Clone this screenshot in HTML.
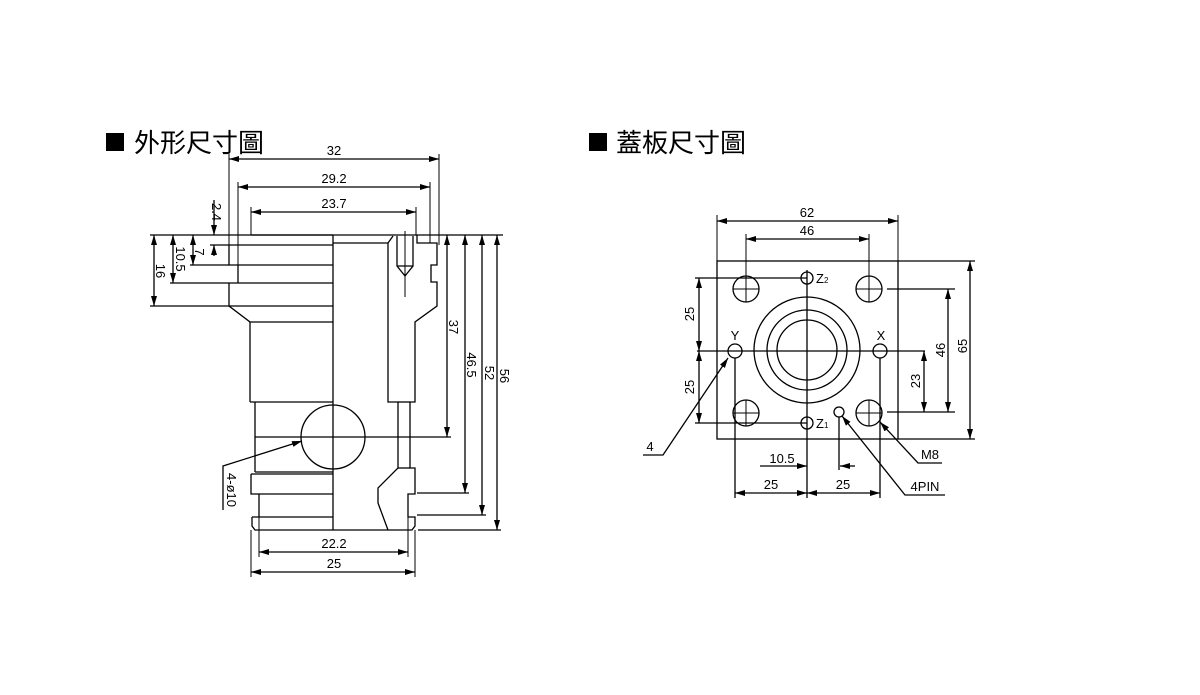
<!DOCTYPE html>
<html><head><meta charset="utf-8"><style>
html,body{margin:0;padding:0;background:#fff;}
svg{display:block;}
text{font-family:"Liberation Sans",Arial,sans-serif;font-size:13px;fill:#000;}
.t{font-family:"Liberation Sans","Noto Sans CJK TC",sans-serif;font-size:26px;}
</style></head><body>
<svg width="1200" height="695" viewBox="0 0 1200 695" xmlns="http://www.w3.org/2000/svg">
<defs>
<marker id="a" viewBox="0 0 10 6" refX="10" refY="3" markerWidth="10" markerHeight="6" orient="auto-start-reverse" markerUnits="userSpaceOnUse"><path d="M0,0L10,3L0,6z" fill="#000"/></marker>
</defs>
<rect x="106" y="133" width="18" height="18" fill="#000"/>
<text class="t" x="134" y="152">外形尺寸圖</text>
<rect x="589" y="133" width="18" height="18" fill="#000"/>
<text class="t" x="616" y="152">蓋板尺寸圖</text>

<g stroke="#000" stroke-width="1.3" fill="none">
<path d="M251,235 H333 M229,245 H333 M229,245 V265 H333 M238,265 V283 M229,283 V306 L250,322 V402 M229,283 H333 M229,306 H333 M250,322 H333 M250,402 H333 M255,402 V472 M255,472 H333 M251,474 V494 H333 M251,474 H333 M259,494 V517 M252,517 H333 M252,517 V526 L255,530 H333"/>
<line x1="333" y1="235" x2="333" y2="530"/>
<path d="M333,243 H388 L393,236 M388,243 V402 H398 V468 L378,488 V503 L388,530 M333,530 H412 L415,526 V517 H408 V494 H415 V468 H410 V402 H415 V322 L437,306 V282 H431 V265 H437 V243 H417 V235"/>
<line x1="398" y1="402" x2="410" y2="402"/><line x1="398" y1="468" x2="410" y2="468"/>
<path d="M397,236 V266 L405,276 L413,266 V236 M397,266 H413"/>
<line x1="405" y1="231" x2="405" y2="297" stroke-width="1"/>
<circle cx="333" cy="437" r="32"/>
<line x1="255" y1="437" x2="451" y2="437"/>
<line x1="150" y1="235" x2="503" y2="235"/>
<line x1="229" y1="154" x2="229" y2="245" stroke-width="1"/><line x1="439" y1="154" x2="439" y2="245" stroke-width="1"/>
<line x1="229" y1="159" x2="439" y2="159" marker-start="url(#a)" marker-end="url(#a)"/>
<line x1="238" y1="182" x2="238" y2="265" stroke-width="1"/><line x1="430" y1="182" x2="430" y2="243" stroke-width="1"/>
<line x1="238" y1="187" x2="430" y2="187" marker-start="url(#a)" marker-end="url(#a)"/>
<line x1="251" y1="207" x2="251" y2="235" stroke-width="1"/><line x1="416" y1="207" x2="416" y2="235" stroke-width="1"/>
<line x1="251" y1="212" x2="416" y2="212" marker-start="url(#a)" marker-end="url(#a)"/>
<line x1="150" y1="306" x2="229" y2="306"/><line x1="170" y1="283" x2="229" y2="283"/><line x1="190" y1="265" x2="229" y2="265"/>
<line x1="154" y1="235" x2="154" y2="306" marker-start="url(#a)" marker-end="url(#a)"/>
<line x1="173" y1="235" x2="173" y2="283" marker-start="url(#a)" marker-end="url(#a)"/>
<line x1="193" y1="235" x2="193" y2="265" marker-start="url(#a)" marker-end="url(#a)"/>
<line x1="214" y1="200" x2="214" y2="235" marker-end="url(#a)"/>
<line x1="214" y1="256" x2="214" y2="245" marker-end="url(#a)"/>
<line x1="210" y1="245" x2="229" y2="245"/>
<line x1="447" y1="235" x2="447" y2="437" marker-start="url(#a)" marker-end="url(#a)"/>
<line x1="465" y1="235" x2="465" y2="493" marker-start="url(#a)" marker-end="url(#a)"/>
<line x1="482" y1="235" x2="482" y2="515" marker-start="url(#a)" marker-end="url(#a)"/>
<line x1="497" y1="235" x2="497" y2="530" marker-start="url(#a)" marker-end="url(#a)"/>
<line x1="417" y1="493" x2="469" y2="493"/><line x1="417" y1="515" x2="486" y2="515"/><line x1="418" y1="530" x2="501" y2="530"/>
<line x1="259" y1="517" x2="259" y2="557" stroke-width="1"/><line x1="408" y1="517" x2="408" y2="557" stroke-width="1"/>
<line x1="251" y1="530" x2="251" y2="577" stroke-width="1"/><line x1="415" y1="530" x2="415" y2="577" stroke-width="1"/>
<line x1="259" y1="552" x2="408" y2="552" marker-start="url(#a)" marker-end="url(#a)"/>
<line x1="251" y1="572" x2="415" y2="572" marker-start="url(#a)" marker-end="url(#a)"/>
<polyline points="223,510 223,466 302,441" marker-end="url(#a)"/>
</g>
<g>
<text x="334" y="155" text-anchor="middle">32</text>
<text x="334" y="183" text-anchor="middle">29.2</text>
<text x="334" y="208" text-anchor="middle">23.7</text>
<text x="334" y="548" text-anchor="middle">22.2</text>
<text x="334" y="568" text-anchor="middle">25</text>
<text transform="translate(216,212) rotate(90)" text-anchor="middle" dy="4">2.4</text>
<text transform="translate(199,252) rotate(90)" text-anchor="middle" dy="4">7</text>
<text transform="translate(180,259) rotate(90)" text-anchor="middle" dy="4">10.5</text>
<text transform="translate(160,271) rotate(90)" text-anchor="middle" dy="4">16</text>
<text transform="translate(453,327) rotate(90)" text-anchor="middle" dy="4">37</text>
<text transform="translate(471,365) rotate(90)" text-anchor="middle" dy="4">46.5</text>
<text transform="translate(489,373) rotate(90)" text-anchor="middle" dy="4">52</text>
<text transform="translate(504,376) rotate(90)" text-anchor="middle" dy="4">56</text>
<text transform="translate(231,490) rotate(90)" text-anchor="middle" dy="4">4-ø10</text>
</g>

<g stroke="#000" stroke-width="1.3" fill="none">
<rect x="717" y="261" width="181" height="178"/>
<circle cx="746" cy="289" r="13"/><circle cx="869" cy="289" r="13"/>
<circle cx="746" cy="413" r="13"/><circle cx="869" cy="413" r="13"/>
<path d="M733,289h26M746,276v26M856,289h26M869,276v26M733,413h26M746,400v26M856,413h26M869,400v26" stroke-width="1"/>
<circle cx="807" cy="278" r="6"/><circle cx="807" cy="423" r="6"/><circle cx="839" cy="412" r="5"/>
<circle cx="807" cy="350" r="53"/><circle cx="807" cy="350" r="40"/><circle cx="807" cy="350" r="30"/>
<circle cx="735" cy="351" r="7"/><circle cx="880" cy="351" r="7"/>
<line x1="807" y1="270" x2="807" y2="498"/>
<line x1="697" y1="351" x2="925" y2="351"/>
<line x1="695" y1="278" x2="807" y2="278"/><line x1="695" y1="423" x2="807" y2="423"/>
<line x1="699" y1="278" x2="699" y2="351" marker-start="url(#a)" marker-end="url(#a)"/>
<line x1="699" y1="351" x2="699" y2="423" marker-start="url(#a)" marker-end="url(#a)"/>
<line x1="887" y1="289" x2="955" y2="289"/><line x1="887" y1="412" x2="955" y2="412"/>
<line x1="924" y1="351" x2="924" y2="412" marker-start="url(#a)" marker-end="url(#a)"/>
<line x1="948" y1="289" x2="948" y2="412" marker-start="url(#a)" marker-end="url(#a)"/>
<line x1="898" y1="261" x2="975" y2="261"/><line x1="898" y1="439" x2="975" y2="439"/>
<line x1="970" y1="261" x2="970" y2="439" marker-start="url(#a)" marker-end="url(#a)"/>
<line x1="717" y1="215" x2="717" y2="261" stroke-width="1"/><line x1="898" y1="215" x2="898" y2="261" stroke-width="1"/>
<line x1="717" y1="221" x2="898" y2="221" marker-start="url(#a)" marker-end="url(#a)"/>
<line x1="746" y1="234" x2="746" y2="300" stroke-width="1"/><line x1="869" y1="234" x2="869" y2="300" stroke-width="1"/>
<line x1="746" y1="239" x2="869" y2="239" marker-start="url(#a)" marker-end="url(#a)"/>
<line x1="735" y1="358" x2="735" y2="498"/><line x1="880" y1="358" x2="880" y2="498"/>
<line x1="735" y1="493" x2="807" y2="493" marker-start="url(#a)" marker-end="url(#a)"/>
<line x1="807" y1="493" x2="880" y2="493" marker-start="url(#a)" marker-end="url(#a)"/>
<line x1="760" y1="466" x2="807" y2="466" marker-end="url(#a)"/>
<line x1="839" y1="417" x2="839" y2="470"/>
<line x1="855" y1="466" x2="840" y2="466" marker-end="url(#a)"/>
<polyline points="643,455 663,455 728,358" marker-end="url(#a)"/>
<polyline points="942,463 918,463 880,422" marker-end="url(#a)"/>
<polyline points="945,495 905,495 842,416" marker-end="url(#a)"/>
</g>
<g>
<text x="807" y="217" text-anchor="middle">62</text>
<text x="807" y="235" text-anchor="middle">46</text>
<text x="816" y="283">Z<tspan font-size="8">2</tspan></text>
<text x="816" y="428">Z<tspan font-size="8">1</tspan></text>
<text x="735" y="340" text-anchor="middle">Y</text>
<text x="881" y="340" text-anchor="middle">X</text>
<text transform="translate(690,314) rotate(-90)" text-anchor="middle" dy="4">25</text>
<text transform="translate(690,387) rotate(-90)" text-anchor="middle" dy="4">25</text>
<text transform="translate(916,381) rotate(-90)" text-anchor="middle" dy="4">23</text>
<text transform="translate(941,350) rotate(-90)" text-anchor="middle" dy="4">46</text>
<text transform="translate(963,346) rotate(-90)" text-anchor="middle" dy="4">65</text>
<text x="782" y="463" text-anchor="middle" font-size="12">10.5</text>
<text x="771" y="489" text-anchor="middle">25</text>
<text x="843" y="489" text-anchor="middle">25</text>
<text x="650" y="451" text-anchor="middle">4</text>
<text x="930" y="459" text-anchor="middle">M8</text>
<text x="925" y="491" text-anchor="middle">4PIN</text>
</g>
</svg>
</body></html>
